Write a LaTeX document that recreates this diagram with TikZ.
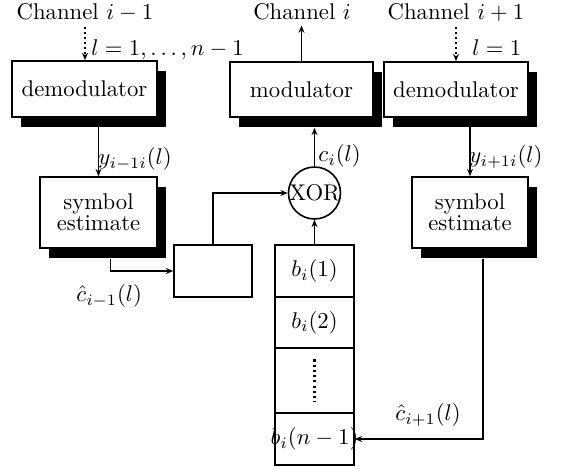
\documentclass[tikz,border=0pt]{standalone}
\usetikzlibrary{arrows.meta,shadows,calc}
\def\upx{0.44pt}
\newcommand\tightse{\fontsize{10}{9.2}\selectfont\lineskiplimit=-20pt\relax\lineskip=0pt\relax}
\begin{document}
\begin{tikzpicture}[x=0.44pt,y=-0.44pt,
 blk/.style={draw,line width=0.7pt,fill=white,inner sep=1pt,
   drop shadow={shadow xshift=9*\upx,shadow yshift=-10*\upx,fill=black,opacity=1}},
 plain/.style={draw,line width=0.7pt,fill=white,inner sep=1pt},
 se/.style={align=center,font=\tightse},
 arr/.style={line width=0.6pt,-{Stealth[length=3.2pt,width=2.6pt]}},
 dotarr/.style={line width=0.9pt,dash pattern=on 0.9pt off 1.3pt,-{Stealth[length=3.2pt,width=2.6pt]}},
 lbl/.style={anchor=base west,inner sep=0pt},
 chan/.style={anchor=base,inner sep=2pt}]
\fill[white] (0,0) rectangle (569,469);
\useasboundingbox (0,0) rectangle (569,469);
% blocks
\node[blk,minimum width=145*\upx,minimum height=56*\upx] (dmL) at (84.5,89) {demodulator};
\node[blk,minimum width=143*\upx,minimum height=55*\upx] (mod) at (301.5,89.5) {modulator};
\node[blk,minimum width=144*\upx,minimum height=55*\upx] (dmR) at (456,89.5) {demodulator};
\node[blk,se,minimum width=117*\upx,minimum height=71*\upx] (seL) at (98.5,212.5) {symbol\\estimate};
\node[blk,se,minimum width=116*\upx,minimum height=71*\upx] (seR) at (470,212.5) {symbol\\estimate};
\node[plain,minimum width=78*\upx,minimum height=52*\upx] (sb) at (213,271) {};
\node[draw,circle,line width=0.7pt,minimum size=52*\upx,inner sep=0pt,label=center:XOR] (xor) at (314.5,193) {};
% stack
\node[plain,minimum width=79*\upx,minimum height=52*\upx] (b1) at (314.5,271) {$b_i(1)$};
\node[plain,minimum width=79*\upx,minimum height=51*\upx] (b2) at (314.5,322.5) {$b_i(2)$};
\node[plain,minimum width=79*\upx,minimum height=65*\upx] (bd) at (314.5,380.5) {};
\node[plain,minimum width=79*\upx,minimum height=52*\upx,label=center:{$b_i(n-1)$}] (bn) at (314.5,439) {};
\draw[line width=1pt,dash pattern=on 0.9pt off 1.4pt] ($(bd.center)+(0,-21)$) -- ($(bd.center)+(0,21)$);
% channel labels
\node[chan] (chL) at (85,20) {Channel $i-1$};
\node[chan] (chI) at (302,20) {Channel $i$};
\node[chan] (chR) at (456,20) {Channel $i+1$};
% connectors
\draw[dotarr] (chL.south) -- (chL.south |- dmL.north);
\draw[arr] (mod.north) -- (mod.north |- chI.south);
\draw[dotarr] (chR.south) -- (chR.south |- dmR.north);
\draw[arr] (dmL.south -| seL.north) -- (seL.north);
\draw[arr] (dmR.south -| seR.north) -- (seR.north);
\draw[arr] (xor.north) -- ($(xor.north |- mod.south)+(0,10)$);
\draw[arr] (sb.north) |- (xor.west);
\draw[arr] ($(seL.south)+(12,10)$) |- (sb.west);
\draw[arr] (b1.north) -- (xor.south);
\draw[arr] ($(seR.south)+(13,10)$) |- (bn.east);
% labels
\node[lbl] (lL) at (91,56) {$l=1,\ldots,n-1$};
\node[lbl] (lR) at (472,56) {$l=1$};
\node[lbl] (yL) at (98,165) {$y_{i-1i}(l)$};
\node[lbl] (yR) at (469,163) {$y_{i+1i}(l)$};
\node[lbl] (cI) at (318,162) {$c_i(l)$};
\node[lbl] (chatL) at (76,302) {$\hat c_{i-1}(l)$};
\node[lbl] (chatR) at (395,421) {$\hat c_{i+1}(l)$};
\end{tikzpicture}
\end{document}
